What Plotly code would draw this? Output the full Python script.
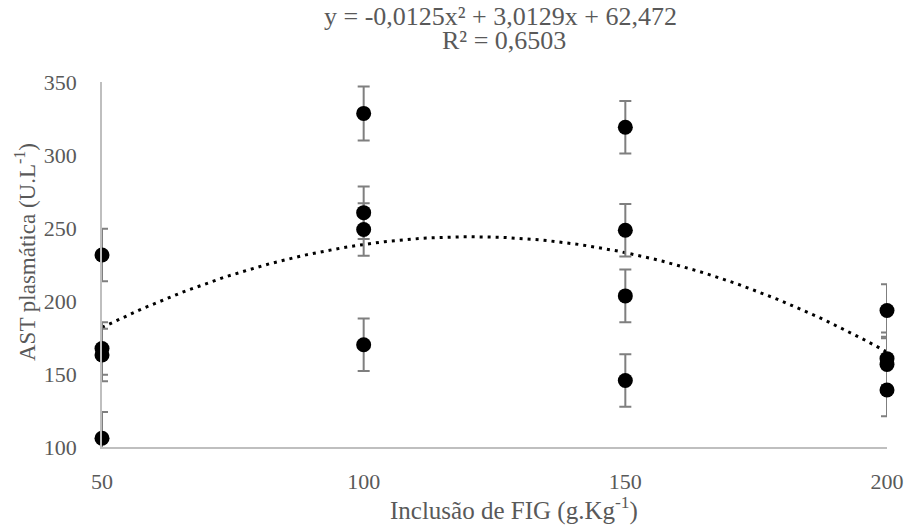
import plotly.graph_objects as go
import numpy as np

# Data
x_vals = [50, 50, 50, 50, 100, 100, 100, 100, 150, 150, 150, 150, 200, 200, 200, 200]
y_vals = [231.5, 167.5, 163.0, 106.0, 328.5, 260.5, 249.0, 170.0,
          319.0, 248.5, 203.5, 145.5, 193.5, 160.5, 156.5, 139.0]
err_vals = [18, 18, 18, 18, 18.5, 18, 18, 18, 18, 18, 18, 18, 18, 18, 18, 18]

# Trendline coefficients as printed on the chart
coef_a, coef_b, coef_c = -0.0125, 3.0129, 62.472
x_tick_vals = [50, 100, 150, 200]
y_tick_vals = [100, 150, 200, 250, 300, 350]

trend_x = np.linspace(50, 200, 151)
trend_y = coef_a * trend_x**2 + coef_b * trend_x + coef_c

font_family = "Liberation Serif"
gray = "#595959"
fs = 22

W, H = 908, 528
ML, MR, MT, MB = 102, 21, 82, 81
ph = H - MT - MB
pw = W - ML - MR


def px_x(x):
    return (x - ML) / pw


def px_y(y):
    return (H - MB - y) / ph


fig = go.Figure()
fig.add_trace(go.Scatter(
    x=trend_x, y=trend_y, mode="lines",
    line=dict(color="black", width=3, dash="3px,5px"),
    hoverinfo="skip", showlegend=False, cliponaxis=False,
))
fig.add_trace(go.Scatter(
    x=x_vals, y=y_vals, mode="markers",
    marker=dict(color="black", size=15),
    error_y=dict(type="data", array=err_vals, visible=True,
                 color="#7f7f7f", thickness=2, width=6),
    showlegend=False, cliponaxis=False,
))

fig.add_annotation(
    text="y = -0,0125x² + 3,0129x + 62,472",
    xref="paper", yref="paper", x=px_x(500), y=px_y(17), xanchor="center", yanchor="middle",
    showarrow=False, font=dict(family=font_family, size=26, color=gray),
)
fig.add_annotation(
    text="R² = 0,6503",
    xref="paper", yref="paper", x=px_x(504), y=px_y(40), xanchor="center", yanchor="middle",
    showarrow=False, font=dict(family=font_family, size=26, color=gray),
)
fig.add_annotation(
    text="Inclusão de FIG (g.Kg<sup>-1</sup>)",
    xref="paper", yref="paper", x=px_x(514), y=px_y(508), xanchor="center", yanchor="middle",
    showarrow=False, font=dict(family=font_family, size=25, color=gray),
)
fig.add_annotation(
    text="AST plasmática (U.L<sup>-1</sup>)", textangle=-90,
    xref="paper", yref="paper", x=px_x(25), y=px_y(252), xanchor="center", yanchor="middle",
    showarrow=False, font=dict(family=font_family, size=23, color=gray),
)

fig.update_layout(
    width=W, height=H,
    margin=dict(l=ML, r=MR, t=MT, b=MB),
    paper_bgcolor="white", plot_bgcolor="white",
    font=dict(family=font_family, color=gray, size=fs),
    xaxis=dict(
        range=[50, 200], tickvals=x_tick_vals, showgrid=False, zeroline=False,
        showline=True, linecolor="#bfbfbf", linewidth=1.5, automargin=False,
        ticks="outside", ticklen=0, ticklabelstandoff=14,
        tickfont=dict(family=font_family, size=fs, color=gray),
    ),
    yaxis=dict(
        range=[100, 350], tickvals=y_tick_vals, showgrid=False, zeroline=False,
        showline=True, linecolor="#bfbfbf", linewidth=1.5, automargin=False,
        ticks="outside", ticklen=0, ticklabelstandoff=19,
        tickfont=dict(family=font_family, size=fs, color=gray),
    ),
)

fig.write_html("out.html", config={"displayModeBar": False},
               post_script="document.body.style.margin='0';document.body.style.overflow='hidden';")
